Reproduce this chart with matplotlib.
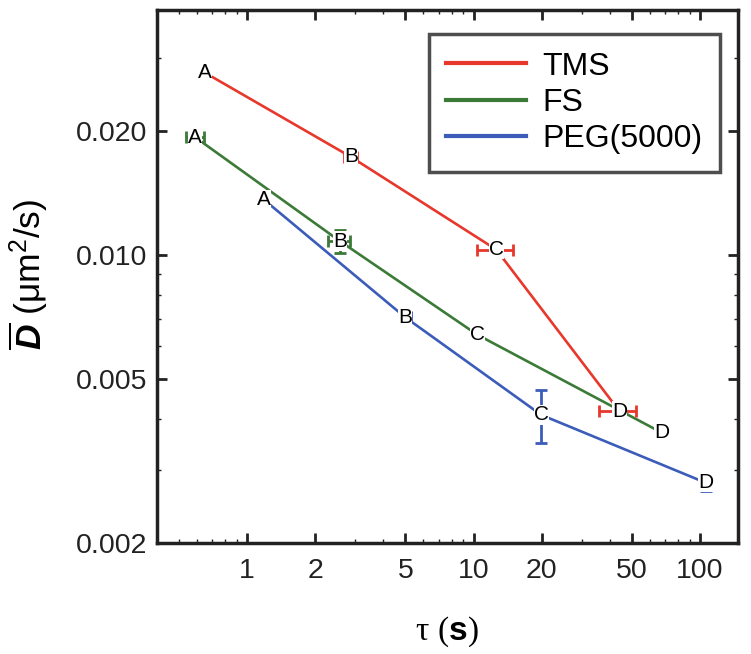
import matplotlib
matplotlib.use('Agg')
import matplotlib.pyplot as plt
from matplotlib.ticker import FixedLocator, FixedFormatter, NullFormatter, LogLocator

plt.rcParams['font.family'] = 'Liberation Sans'
plt.rcParams['mathtext.fontset'] = 'custom'
plt.rcParams['mathtext.rm'] = 'Liberation Sans'
plt.rcParams['mathtext.it'] = 'Liberation Sans:italic'
plt.rcParams['mathtext.bf'] = 'Liberation Sans:bold'
plt.rcParams['mathtext.bfit'] = 'Liberation Sans:bold:italic'
plt.rcParams['mathtext.sf'] = 'Liberation Serif'

# data
point_labels = ['A', 'B', 'C', 'D']
series_names = ['TMS', 'FS', 'PEG(5000)']

tms_tau = [0.65, 2.87, 12.6, 44.0]
tms_D = [0.0277, 0.0173, 0.0103, 0.00418]
tms_tau_err = [0, 0.2, 2.3, 8.2]
tms_D_err = [0, 0, 0, 0.00018]

fs_tau = [0.59, 2.57, 10.4, 68.0]
fs_D = [0.0193, 0.0108, 0.0064, 0.0037]
fs_tau_err = [0.055, 0.29, 0.65, 0]
fs_D_err = [0, 0.0007, 0, 0]

peg_tau = [1.19, 4.97, 19.9, 106.0]
peg_D = [0.0136, 0.00707, 0.00409, 0.0028]
peg_tau_err = [0, 0.3, 0, 0]
peg_D_err = [0, 0, 0.0006, 0.00013]

x_ticks = [1, 2, 5, 10, 20, 50, 100]
y_ticks = [0.002, 0.005, 0.010, 0.020]
y_ticklabels = ['0.002', '0.005', '0.010', '0.020']

colors = ['#e8372b', '#3b7a37', '#3b5cb8']

fig = plt.figure(figsize=(7.51, 6.54), dpi=100)
ax = fig.add_axes([157/751, 1-543/654, (738-157)/751, (543-10)/654])

allser = [(tms_tau, tms_D, tms_tau_err, tms_D_err),
          (fs_tau, fs_D, fs_tau_err, fs_D_err),
          (peg_tau, peg_D, peg_tau_err, peg_D_err)]

for (tau, D, te, de), c, name in zip(allser, colors, series_names):
    ax.plot(tau, D, color=c, lw=1.9, label=name, zorder=2)
    for t, d, xe, ye in zip(tau, D, te, de):
        if xe or ye:
            ax.errorbar([t], [d], xerr=[xe] if xe else None, yerr=[ye] if ye else None,
                        fmt='none', ecolor=c, elinewidth=2, capsize=4.5, capthick=2, zorder=3)
    for t, d, lab in zip(tau, D, point_labels):
        ax.text(t, d, lab, fontsize=15, ha='center', va='center', zorder=4,
                bbox=dict(facecolor='white', edgecolor='none', pad=0.2))

ax.set_xscale('log')
ax.set_yscale('log')
ax.set_xlim(0.4, 147)
ax.set_ylim(0.002, 0.0393)

ax.xaxis.set_major_locator(FixedLocator(x_ticks))
ax.xaxis.set_major_formatter(FixedFormatter([str(v) for v in x_ticks]))
ax.xaxis.set_minor_locator(LogLocator(subs=range(2, 10)))
ax.xaxis.set_minor_formatter(NullFormatter())
ax.yaxis.set_major_locator(FixedLocator(y_ticks))
ax.yaxis.set_major_formatter(FixedFormatter(y_ticklabels))
ax.yaxis.set_minor_locator(LogLocator(subs=range(2, 10)))
ax.yaxis.set_minor_formatter(NullFormatter())

ax.tick_params(which='both', direction='in', top=True, right=True, width=2, colors='#222222')
ax.tick_params(which='major', length=7, labelsize=20.5)
ax.tick_params(axis='x', which='major', pad=11)
ax.tick_params(axis='y', which='major', pad=7)
ax.tick_params(which='minor', length=3, width=1)
for s in ax.spines.values():
    s.set_linewidth(2.5)
    s.set_color('#222222')

leg = ax.legend(loc='upper right', fontsize=23, frameon=True, fancybox=False,
                handlelength=2.5, handletextpad=0.5, borderpad=0.55, labelspacing=0.2,
                borderaxespad=0, bbox_to_anchor=(0.969, 0.955))
leg.get_frame().set_edgecolor('#222222')
leg.get_frame().set_linewidth(2.5)
for h in leg.get_lines():
    h.set_linewidth(3)

fig.text(447/751, 1-632/654, r'$\mathsf{\tau\ (}\mathbf{s}\mathsf{)}$', fontsize=24,
         ha='center', va='center')
fig.text(28/751, 1-274/654, r'$\overline{\mathbfit{D}}$ (μm$^2$/s)', fontsize=25.5,
         ha='center', va='center', rotation=90)

fig.savefig('out.png', dpi=100)
